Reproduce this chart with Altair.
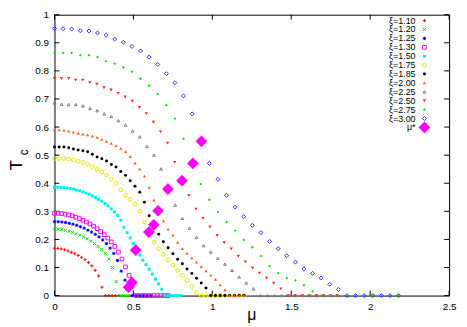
import altair as alt
import pandas as pd

# ---------------- data ----------------
labels = ["ξ=1.10", "ξ=1.20", "ξ=1.25", "ξ=1.30", "ξ=1.50", "ξ=1.75",
          "ξ=1.85", "ξ=2.00", "ξ=2.25", "ξ=2.50", "ξ=2.75", "ξ=3.00"]
mu_steps = [0.0215, 0.023, 0.0235, 0.0225, 0.02, 0.03,
            0.03, 0.03, 0.045, 0.0448, 0.0545, 0.0545]

tc_110 = [0.169, 0.168, 0.166, 0.163, 0.159, 0.154, 0.149, 0.143, 0.136, 0.128,
          0.118, 0.106, 0.090, 0.070, 0.030, 0, 0, 0, 0, 0]
tc_120 = [0.237, 0.236, 0.235, 0.232, 0.229, 0.225, 0.220, 0.215, 0.209, 0.202,
          0.194, 0.185, 0.175, 0.164, 0.150, 0.130, 0.100, 0.050, 0, 0, 0, 0, 0, 0]
tc_125 = [0.263, 0.263, 0.262, 0.260, 0.257, 0.254, 0.250, 0.245, 0.240, 0.233,
          0.226, 0.218, 0.209, 0.198, 0.185, 0.169, 0.150, 0.125, 0.087, 0.055,
          0.028, 0, 0, 0, 0, 0, 0]
tc_130 = [0.293, 0.293, 0.292, 0.290, 0.287, 0.284, 0.279, 0.274, 0.268, 0.262,
          0.255, 0.247, 0.238, 0.228, 0.217, 0.205, 0.191, 0.175, 0.155, 0.130,
          0.102, 0.072, 0.040, 0, 0, 0, 0, 0, 0, 0, 0, 0, 0]
tc_150 = [0.386, 0.386, 0.385, 0.384, 0.383, 0.381, 0.379, 0.376, 0.373, 0.369,
          0.365, 0.361, 0.355, 0.349, 0.343, 0.336, 0.328, 0.319, 0.309, 0.298,
          0.285, 0.268, 0.243, 0.224, 0.205, 0.185, 0.164, 0.144, 0.126, 0.110,
          0.094, 0.077, 0.059, 0.042, 0.023, 0, 0, 0, 0, 0, 0]
tc_175 = [0.488, 0.488, 0.488, 0.486, 0.483, 0.478, 0.474, 0.467, 0.459, 0.449,
          0.440, 0.428, 0.414, 0.399, 0.377, 0.357, 0.342, 0.325, 0.300, 0.262,
          0.225, 0.190, 0.167, 0.147, 0.127, 0.108, 0.090, 0.072, 0.054, 0.033,
          0.010, 0, 0, 0, 0, 0, 0, 0, 0, 0, 0]
tc_185 = [0.529, 0.529, 0.529, 0.526, 0.522, 0.518, 0.516, 0.512, 0.503, 0.493,
          0.487, 0.479, 0.467, 0.458, 0.442, 0.428, 0.409, 0.389, 0.368, 0.332,
          0.284, 0.252, 0.218, 0.192, 0.170, 0.149, 0.129, 0.113, 0.095, 0.079,
          0.062, 0.045, 0.027, 0, 0, 0, 0, 0, 0, 0, 0]
tc_200 = [0.591, 0.590, 0.588, 0.586, 0.582, 0.578, 0.575, 0.572, 0.568, 0.563,
          0.556, 0.549, 0.542, 0.534, 0.524, 0.513, 0.495, 0.472, 0.450, 0.425,
          0.385, 0.340, 0.300, 0.266, 0.237, 0.215, 0.190, 0.167, 0.150, 0.134,
          0.119, 0.103, 0.088, 0.073, 0.058, 0.038, 0.020, 0, 0, 0, 0]
tc_225 = [0.686, 0.681, 0.680, 0.680, 0.675, 0.666, 0.658, 0.647, 0.638, 0.623,
          0.607, 0.586, 0.565, 0.531, 0.500, 0.451, 0.383, 0.322, 0.275, 0.240,
          0.207, 0.178, 0.155, 0.133, 0.112, 0.090, 0.066, 0.045, 0.024,
          0, 0, 0, 0, 0, 0, 0, 0, 0, 0, 0, 0]
tc_250 = [0.773, 0.773, 0.773, 0.767, 0.767, 0.758, 0.753, 0.740, 0.732, 0.720,
          0.707, 0.692, 0.670, 0.648, 0.617, 0.583, 0.543, 0.474, 0.409, 0.356,
          0.308, 0.275, 0.244, 0.214, 0.188, 0.166, 0.140, 0.120, 0.098, 0.080,
          0.062, 0.044, 0.024, 0, 0, 0, 0, 0, 0, 0, 0]
tc_275 = [0.864, 0.864, 0.864, 0.856, 0.856, 0.849, 0.834, 0.826, 0.812, 0.797,
          0.772, 0.748, 0.718, 0.678, 0.630, 0.558, 0.471, 0.397, 0.341, 0.298,
          0.262, 0.231, 0.198, 0.172, 0.141, 0.105, 0.080, 0.063, 0.054, 0.037,
          0.015, 0, 0, 0, 0, 0, 0, 0, 0, 0, 0]
tc_300 = [0.951, 0.950, 0.949, 0.943, 0.942, 0.935, 0.927, 0.913, 0.902, 0.887,
          0.871, 0.849, 0.823, 0.790, 0.758, 0.711, 0.647, 0.550, 0.471, 0.414,
          0.357, 0.315, 0.281, 0.250, 0.224, 0.193, 0.167, 0.142, 0.119, 0.095,
          0.079, 0.063, 0.040, 0.022, 0, 0, 0, 0, 0, 0, 0]

mu_star = [0.469, 0.490, 0.515, 0.598, 0.629, 0.656, 0.719, 0.808, 0.877, 0.931]
tc_star = [0.030, 0.047, 0.162, 0.226, 0.252, 0.302, 0.379, 0.409, 0.471, 0.549]

series_tc = [tc_110, tc_120, tc_125, tc_130, tc_150, tc_175,
             tc_185, tc_200, tc_225, tc_250, tc_275, tc_300]

x_ticks = [0, 0.5, 1, 1.5, 2, 2.5]
y_ticks = [0, 0.1, 0.2, 0.3, 0.4, 0.5, 0.6, 0.7, 0.8, 0.9, 1]

# ---------------- styling ----------------
PLUS = "M-1,0L1,0M0,-1L0,1"
CROSS = "M-1,-1L1,1M-1,1L1,-1"
STAR = "M-1,0L1,0M0,-1L0,1M-0.7,-0.7L0.7,0.7M-0.7,0.7L0.7,-0.7"
styles = [
    ("#ff0000", PLUS, False, 10),
    ("#00dd00", CROSS, False, 9),
    ("#0000ff", STAR, False, 11),
    ("#ff00ff", "square", False, 14),
    ("#00eeee", "square", True, 9),
    ("#e8e800", "circle", False, 14),
    ("#000000", "circle", True, 9),
    ("#ff5a1e", "triangle-up", True, 11),
    ("#808080", "triangle-up", False, 8),
    ("#ff2020", "triangle-down", True, 11),
    ("#00dd00", "diamond", True, 8),
    ("#3030ff", "diamond", False, 16),
]

W, H = 399, 284
FONT = "Liberation Sans"

xscale = alt.Scale(domain=[0, 2.5], nice=False, zero=False)
yscale = alt.Scale(domain=[0, 1], nice=False, zero=False)
xaxis = alt.Axis(values=x_ticks, format="~g", title=None, grid=False, ticks=False,
                 domain=False, labelFont=FONT, labelFontSize=10, labelColor="black",
                 labelPadding=6, labelFlush=False, labelOverlap=False)
yaxis = alt.Axis(values=y_ticks, format="~g", title=None, grid=False, ticks=False,
                 domain=False, labelFont=FONT, labelFontSize=10, labelColor="black",
                 labelPadding=6, labelFlush=False, labelOverlap=False)


def X(field):
    return alt.X(f"{field}:Q", scale=xscale, axis=xaxis)


def Y(field):
    return alt.Y(f"{field}:Q", scale=yscale, axis=yaxis)


layers = []

# inward ticks on all four sides
ydf = pd.DataFrame({"v": y_ticks})
xdf = pd.DataFrame({"v": x_ticks})
TL = 5
layers.append(alt.Chart(ydf).mark_rule(color="black", strokeWidth=1).encode(
    y=Y("v"), x=alt.value(0), x2=alt.value(TL)))
layers.append(alt.Chart(ydf).mark_rule(color="black", strokeWidth=1).encode(
    y=Y("v"), x=alt.value(W - TL), x2=alt.value(W)))
layers.append(alt.Chart(xdf).mark_rule(color="black", strokeWidth=1).encode(
    x=X("v"), y=alt.value(H), y2=alt.value(H - TL)))
layers.append(alt.Chart(xdf).mark_rule(color="black", strokeWidth=1).encode(
    x=X("v"), y=alt.value(0), y2=alt.value(TL)))

# legend geometry (pixel rows converted to data units)
leg_text_mu = 366 / 160.0
leg_sym_mu = 375 / 160.0


def leg_T(i):
    return 1 - (6 + 9 * i) / H


for i, (tcs, step, (col, shp, filled, size)) in enumerate(zip(series_tc, mu_steps, styles)):
    df = pd.DataFrame({"mu": [round(k * step, 4) for k in range(len(tcs))], "Tc": tcs})
    mk = dict(shape=shp, filled=filled, size=size, color=col, strokeWidth=1, opacity=1)
    layers.append(alt.Chart(df).mark_point(**mk).encode(x=X("mu"), y=Y("Tc")))
    ldf = pd.DataFrame({"mu": [leg_sym_mu], "Tc": [leg_T(i)]})
    layers.append(alt.Chart(ldf).mark_point(**mk).encode(x=X("mu"), y=Y("Tc")))

star_df = pd.DataFrame({"mu": mu_star, "Tc": tc_star})
layers.append(alt.Chart(star_df).mark_point(shape="diamond", filled=True, size=140,
                                            color="#ff00ff", opacity=1).encode(x=X("mu"), y=Y("Tc")))
layers.append(alt.Chart(pd.DataFrame({"mu": [leg_sym_mu], "Tc": [leg_T(12)]})).mark_point(
    shape="diamond", filled=True, size=140, color="#ff00ff", opacity=1).encode(x=X("mu"), y=Y("Tc")))

leg_df = pd.DataFrame({"label": labels + ["μ*"],
                       "mu": [leg_text_mu] * 13,
                       "Tc": [leg_T(i) for i in range(13)]})
layers.append(alt.Chart(leg_df).mark_text(align="right", baseline="middle", font=FONT,
                                          fontSize=9, color="black").encode(
    x=X("mu"), y=Y("Tc"), text="label:N"))

# axis titles
layers.append(alt.Chart(pd.DataFrame({"t": ["T"]})).mark_text(
    font=FONT, fontSize=17, angle=270, color="black", baseline="middle", align="center").encode(
    x=alt.value(-38), y=alt.value(152), text="t:N"))
layers.append(alt.Chart(pd.DataFrame({"t": ["c"]})).mark_text(
    font=FONT, fontSize=12, angle=270, color="black", baseline="middle", align="center").encode(
    x=alt.value(-31), y=alt.value(139), text="t:N"))
layers.append(alt.Chart(pd.DataFrame({"t": ["μ"]})).mark_text(
    font=FONT, fontSize=16, color="black", baseline="middle", align="center").encode(
    x=alt.value(W / 2), y=alt.value(H + 20), text="t:N"))

chart = alt.layer(*layers).properties(
    width=W, height=H,
    autosize=alt.AutoSizeParams(type="none"),
    padding={"left": 47, "top": 5, "right": 10, "bottom": 30},
).configure_view(stroke="black", strokeWidth=1)

chart.save("out.html", embed_options={"renderer": "svg", "actions": False})
